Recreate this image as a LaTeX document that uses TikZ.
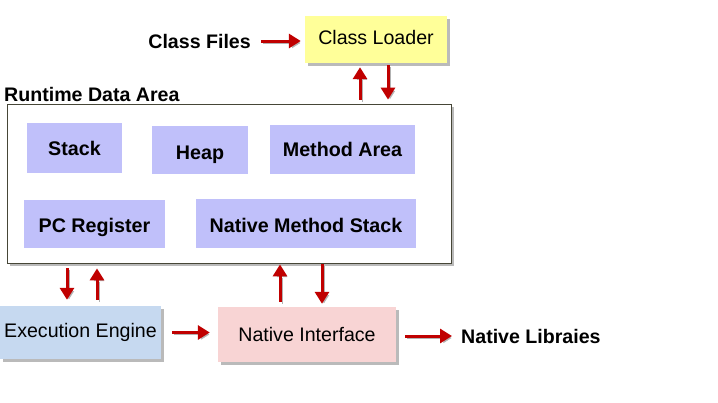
\documentclass[tikz,border=0pt]{standalone}
\usepackage{fontspec}
\setmainfont{Liberation Sans}
\usetikzlibrary{arrows.meta,shadows,calc}
\definecolor{arrred}{RGB}{192,0,0}
\definecolor{lav}{RGB}{192,192,250}
\definecolor{eeblue}{RGB}{198,217,240}
\definecolor{nipink}{RGB}{248,212,212}
\definecolor{clyellow}{RGB}{255,255,153}
\definecolor{rdaborder}{RGB}{70,70,55}
\tikzset{
  shad/.style={drop shadow={shadow xshift=3pt,shadow yshift=-3pt,opacity=0.45,fill=black!60}},
  inbox/.style={fill=lav,inner sep=0pt,font=\fontsize{19.7}{22}\selectfont\bfseries},
  outbox/.style={shad,inner sep=0pt,font=\fontsize{19.6}{22}\selectfont},
  lbl/.style={inner sep=0pt,font=\fontsize{19.6}{22}\selectfont\bfseries},
  arr/.style={draw=arrred,line width=3pt,-{Triangle[length=12pt,width=14pt]},
    preaction={draw=black!30,transform canvas={shift={(2pt,-2pt)}}}}
}
\begin{document}
\begin{tikzpicture}[x=1pt,y=-1pt]
\useasboundingbox[fill=white] (0,0) rectangle (718,402);
% boxes
\node[outbox,fill=clyellow,minimum width=142pt,minimum height=47pt,text depth=4pt] (cl) at (376,39.5) {Class Loader};
\node[shad,fill=white,draw=rdaborder,line width=0.8pt,minimum width=444pt,minimum height=159pt] (rda) at (229,183.5) {};
\node[lbl,anchor=west] (rdal) at (4,94) {Runtime Data Area};
\node[lbl,anchor=east] (cf) at (251,41) {Class Files};
\node[inbox,minimum width=95pt,minimum height=50pt] (stack) at (74.5,148) {Stack};
\node[inbox,minimum width=96pt,minimum height=48pt,text height=24pt] (heap) at (200,150) {Heap};
\node[inbox,minimum width=145pt,minimum height=49pt] (ma) at (342.5,149.5) {Method Area};
\node[inbox,minimum width=141pt,minimum height=48pt,text height=22pt] (pc) at (94.5,224) {PC Register};
\node[inbox,minimum width=220pt,minimum height=49pt,text height=18pt] (nms) at (306,223.5) {Native Method Stack};
\node[outbox,fill=eeblue,minimum width=161pt,minimum height=53pt] (ee) at (80.5,332.5) {Execution Engine};
\node[outbox,fill=nipink,minimum width=178pt,minimum height=55pt] (ni) at (307,334.5) {Native Interface};
\node[lbl,anchor=west] (nl) at (461,336) {Native Libraies};
% connectors
\draw[arr,shorten <=10pt,shorten >=4pt] (cf.east) -- (cf.east -| cl.west);
\coordinate (c1) at ([xshift=-16pt]cl.south);
\coordinate (c2) at ([xshift=12pt]cl.south);
\draw[arr,shorten <=4pt,shorten >=4pt] (c1 |- rda.north) -- (c1);
\draw[arr,shorten <=2pt,shorten >=4pt] (c2) -- (c2 |- rda.north);
\coordinate (e1) at ([xshift=-13.5pt]ee.north);
\coordinate (e2) at ([xshift=16.5pt]ee.north);
\draw[arr,shorten <=5pt,shorten >=6pt] (e1 |- rda.south) -- (e1);
\draw[arr,shorten <=6pt,shorten >=5pt] (e2) -- (e2 |- rda.south);
\coordinate (n1) at ([xshift=-27pt]ni.north);
\coordinate (n2) at ([xshift=15pt]ni.north);
\draw[arr,shorten <=5pt,shorten >=1pt] (n1) -- (n1 |- rda.south);
\draw[arr,shorten <=1pt,shorten >=3pt] (n2 |- rda.south) -- (n2);
\draw[arr,shorten <=11pt,shorten >=8pt] (ee.east) -- (ee.east -| ni.west);
\draw[arr,shorten <=9pt,shorten >=9pt] (ni.east |- nl.west) -- (nl.west);
\end{tikzpicture}
\end{document}
